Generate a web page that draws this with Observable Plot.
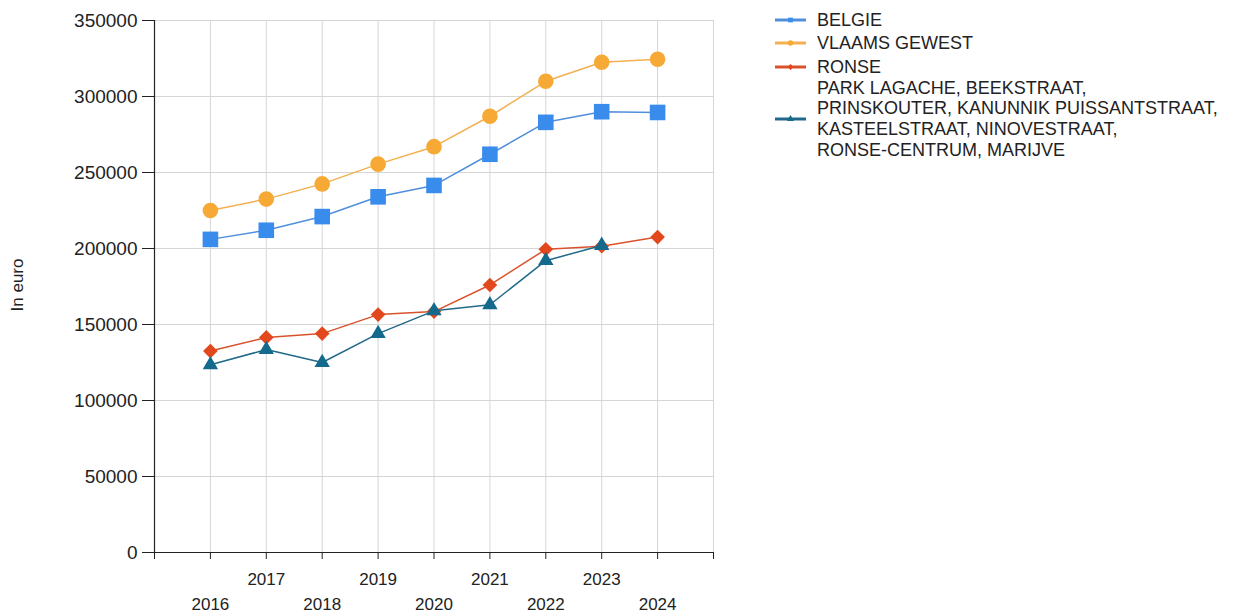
<!DOCTYPE html>
<html>
<head>
<meta charset="utf-8">
<script src="https://cdn.jsdelivr.net/npm/d3@7"></script>
<script src="https://cdn.jsdelivr.net/npm/@observablehq/plot@0.6"></script>
<style>
  body { margin: 0; background: #fff; font-family: "Liberation Sans", Arial, sans-serif; color: #222; }
  #wrap { position: relative; width: 1236px; height: 616px; overflow: hidden; }
  #chart { position: absolute; left: 0; top: 0; }
  .ylab { position: absolute; left: 18px; top: 285px; transform: translate(-50%, -50%) rotate(-90deg); font-size: 17px; white-space: nowrap; color: #222; }
  .leg { position: absolute; left: 775px; display: flex; align-items: center; }
  .leg svg { flex: none; }
  .leg span { font-size: 18px; line-height: 20.7px; margin-left: 11px; white-space: pre-line; color: #222; }
</style>
</head>
<body>
<div id="wrap">
  <div id="chart"></div>
  <div class="ylab">In euro</div>
  <div id="legend"></div>
</div>
<script>
// ---- data ----
const years = [2016, 2017, 2018, 2019, 2020, 2021, 2022, 2023, 2024];
const seriesNames = [
  "BELGIE",
  "VLAAMS GEWEST",
  "RONSE",
  "PARK LAGACHE, BEEKSTRAAT,\nPRINSKOUTER, KANUNNIK PUISSANTSTRAAT,\nKASTEELSTRAAT, NINOVESTRAAT,\nRONSE-CENTRUM, MARIJVE"
];
const belgie = [206000, 212000, 221000, 234000, 241500, 262000, 283000, 290000, 289500];
const vlaams = [225000, 232500, 242500, 255500, 267000, 287000, 310000, 322500, 324500];
const ronse  = [132500, 141500, 144000, 156500, 158500, 176000, 199500, 201500, 207500];
const park   = [123500, 133500, 125000, 144000, 159000, 163000, 192000, 202000, null];
const yTicks = [0, 50000, 100000, 150000, 200000, 250000, 300000, 350000];
const axisYears = [2015, 2016, 2017, 2018, 2019, 2020, 2021, 2022, 2023, 2024, 2025];
const upperLabelYears = [2017, 2019, 2021, 2023];
const lowerLabelYears = [2016, 2018, 2020, 2022, 2024];

// ---- styles ----
const markerColors = ["#3a8cec", "#f7a936", "#e2481c", "#146a8c"];
const lineColors   = ["#4f8fdc", "#f2b050", "#d9522c", "#21698a"];
const symbols = ["square", "circle", "diamond2", "triangle"];
const radii = [8.8, 7.8, 6.6, 5.7];
const valueLists = [belgie, vlaams, ronse, park];

const data = [];
seriesNames.forEach((name, i) => {
  years.forEach((yr, j) => {
    const v = valueLists[i][j];
    if (v != null) data.push({series: i, year: yr, value: v});
  });
});

const seriesMarks = [];
seriesNames.forEach((name, i) => {
  const d = data.filter(r => r.series === i);
  seriesMarks.push(Plot.line(d, {x: "year", y: "value", stroke: lineColors[i], strokeWidth: 1.5}));
  seriesMarks.push(Plot.dot(d, {x: "year", y: "value", symbol: symbols[i], r: radii[i], fill: markerColors[i], stroke: "none"}));
});

const chart = Plot.plot({
  width: 760,
  height: 616,
  marginLeft: 154,
  marginRight: 47,
  marginTop: 20,
  marginBottom: 64,
  style: {fontFamily: "'Liberation Sans', Arial, sans-serif", color: "#222", background: "transparent", overflow: "visible"},
  x: {domain: [2015, 2025]},
  y: {domain: [0, 350000]},
  marks: [
    Plot.ruleY(yTicks.filter(d => d > 0), {stroke: "#d6d6d6", strokeWidth: 1}),
    Plot.ruleX(axisYears.filter(d => d > 2015), {stroke: "#d6d6d6", strokeWidth: 1}),
    Plot.ruleY([0], {stroke: "#222", strokeWidth: 1.2}),
    Plot.ruleX([2015], {stroke: "#222", strokeWidth: 1.2}),
    Plot.axisY({ticks: yTicks, tickSize: 12, tickPadding: 5, fontSize: 19, tickFormat: d => String(d), label: null, stroke: "#222"}),
    Plot.axisX({ticks: axisYears, tickSize: 7, tickFormat: () => "", label: null, stroke: "#222"}),
    Plot.axisX({ticks: upperLabelYears, tickSize: 0, tickPadding: 20, fontSize: 17, tickFormat: d => String(d), label: null}),
    Plot.axisX({ticks: lowerLabelYears, tickSize: 0, tickPadding: 45, fontSize: 17, tickFormat: d => String(d), label: null}),
    ...seriesMarks
  ]
});
document.getElementById("chart").appendChild(chart);

// ---- legend ----
const legendCenters = [20, 43.5, 67, 119];
const legend = document.getElementById("legend");
seriesNames.forEach((name, i) => {
  const row = document.createElement("div");
  row.className = "leg";
  const lines = name.split("\n").length;
  const h = lines * 20.7;
  row.style.top = (legendCenters[i] - h / 2) + "px";
  const svg = d3.create("svg").attr("width", 31).attr("height", 10);
  svg.append("line").attr("x1", 0).attr("x2", 31).attr("y1", 5).attr("y2", 5)
    .attr("stroke", lineColors[i]).attr("stroke-width", 3);
  const symMap = {square: d3.symbolSquare, circle: d3.symbolCircle, diamond2: d3.symbolDiamond2, triangle: d3.symbolTriangle};
  svg.append("path").attr("transform", "translate(15.5,5)")
    .attr("d", d3.symbol(symMap[symbols[i]], 22)())
    .attr("fill", markerColors[i]);
  row.appendChild(svg.node());
  const span = document.createElement("span");
  span.textContent = name;
  row.appendChild(span);
  legend.appendChild(row);
});
</script>
</body>
</html>
